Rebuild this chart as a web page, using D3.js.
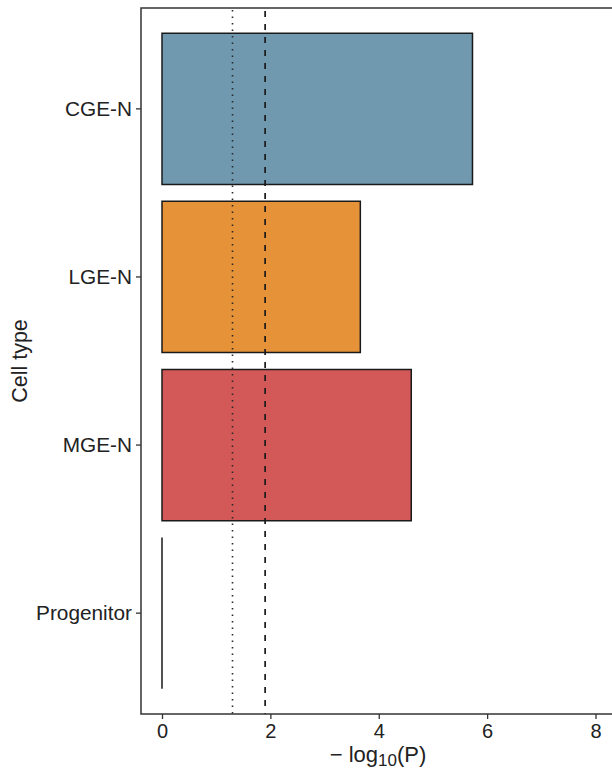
<!DOCTYPE html>
<html>
<head>
<meta charset="utf-8">
<script src="https://cdn.jsdelivr.net/npm/d3@7"></script>
<style>
  html, body { margin: 0; padding: 0; background: #fff; }
  svg { display: block; font-family: "Liberation Sans", Arial, sans-serif; }
</style>
</head>
<body>
<svg id="chart" width="612" height="773"></svg>
<script>
// Enrichment of each cell type: -log10(P)
const cellTypes = ["CGE-N", "LGE-N", "MGE-N", "Progenitor"];
const negLogP = [5.73, 3.66, 4.60, 0];
const barColors = ["#7098ae", "#e69239", "#d35959", "#cccccc"];
const xTicks = [0, 2, 4, 6, 8];
// Significance thresholds: nominal P = 0.05 and Bonferroni-corrected P = 0.05/4
const nominalCut = -Math.log10(0.05);
const bonferroniCut = -Math.log10(0.05 / 4);

const svg = d3.select("#chart");
const panel = { left: 141, top: 8, right: 615, bottom: 714 };

const x = d3.scaleLinear().domain([0, 8]).range([162, 595.5]);
const y = d3.scaleBand()
  .domain(cellTypes)
  .range([panel.top, panel.bottom])
  .paddingInner(0.1)
  .paddingOuter(0.15);

const rows = cellTypes.map((c, i) => ({ type: c, value: negLogP[i], color: barColors[i] }));

// bars as closed paths, so a zero-length bar still shows its outline
function barPath(d) {
  const p = d3.path();
  const x0 = x(0), x1 = x(d.value), y0 = y(d.type), y1 = y0 + y.bandwidth();
  p.moveTo(x0, y0); p.lineTo(x1, y0); p.lineTo(x1, y1); p.lineTo(x0, y1); p.closePath();
  return p.toString();
}
svg.append("g").selectAll("path")
  .data(rows)
  .join("path")
  .attr("d", barPath)
  .attr("fill", d => d.color)
  .attr("stroke", "#1a1a1a")
  .attr("stroke-width", 1.5);

// threshold lines
svg.append("line")
  .attr("x1", x(nominalCut)).attr("x2", x(nominalCut))
  .attr("y1", panel.top + 2).attr("y2", panel.bottom)
  .attr("stroke", "#2a2a2a").attr("stroke-width", 1.6)
  .attr("stroke-dasharray", "1.5,5").attr("stroke-linecap", "butt");
svg.append("line")
  .attr("x1", x(bonferroniCut)).attr("x2", x(bonferroniCut))
  .attr("y1", panel.top + 3).attr("y2", panel.bottom)
  .attr("stroke", "#1a1a1a").attr("stroke-width", 1.7)
  .attr("stroke-dasharray", "6,7");

// panel border
svg.append("rect")
  .attr("x", panel.left).attr("y", panel.top)
  .attr("width", panel.right - panel.left)
  .attr("height", panel.bottom - panel.top)
  .attr("fill", "none").attr("stroke", "#333").attr("stroke-width", 1.5);

// x axis
const xAxis = svg.append("g")
  .attr("transform", `translate(0,${panel.bottom})`)
  .call(d3.axisBottom(x).tickValues(xTicks).tickSize(5).tickPadding(5).tickFormat(d3.format("d")));
xAxis.select(".domain").remove();
xAxis.selectAll(".tick line").attr("stroke", "#333").attr("stroke-width", 1.3);
xAxis.selectAll(".tick text").attr("fill", "#222").attr("font-size", 20);

// y axis
const yAxis = svg.append("g")
  .attr("transform", `translate(${panel.left},0)`)
  .call(d3.axisLeft(y).tickSize(5).tickPadding(4));
yAxis.select(".domain").remove();
yAxis.selectAll(".tick line").attr("stroke", "#333").attr("stroke-width", 1.3);
yAxis.selectAll(".tick text").attr("fill", "#222").attr("font-size", 20.8);

// axis titles
const xTitle = svg.append("text")
  .attr("x", (panel.left + panel.right) / 2)
  .attr("y", 762)
  .attr("text-anchor", "middle")
  .attr("fill", "#222")
  .attr("font-size", 22);
xTitle.append("tspan").text("\u2212 log");
xTitle.append("tspan").attr("font-size", 17).attr("dy", 4).text("10");
xTitle.append("tspan").attr("dy", -4).text("(P)");

svg.append("text")
  .attr("transform", `translate(27,${(panel.top + panel.bottom) / 2}) rotate(-90)`)
  .attr("text-anchor", "middle")
  .attr("fill", "#222")
  .attr("font-size", 21.5)
  .text("Cell type");
</script>
</body>
</html>
